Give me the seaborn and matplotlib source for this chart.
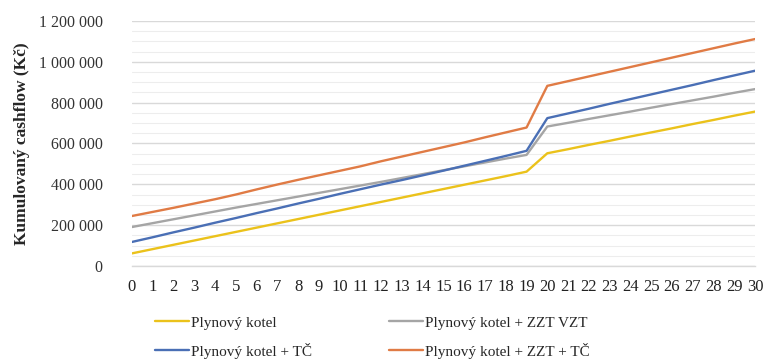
import numpy as np
import pandas as pd
import matplotlib
matplotlib.use("Agg")
import matplotlib.pyplot as plt
from matplotlib.ticker import MultipleLocator, FuncFormatter
from matplotlib.lines import Line2D
import seaborn as sns

# Years of operation
years = list(range(0, 31))

# Cumulative cashflow (CZK) for each heating variant
plynovy_kotel = [
    62000, 83000, 104000, 125000, 146000, 167000, 188000, 209000, 230000, 251000,
    272000, 293000, 314000, 335000, 356000, 377000, 398000, 419000, 440000, 462000,
    552000, 572000, 593000, 613000, 634000, 654000, 674000, 695000, 715000, 736000,
    756000,
]
kotel_zzt_vzt = [
    191000, 210000, 229000, 248000, 267000, 286000, 304000, 322000, 340000, 358000,
    376000, 394000, 412000, 431000, 450000, 469000, 488000, 507000, 526000, 544000,
    683000, 701000, 720000, 738000, 756000, 775000, 793000, 811000, 829000, 848000,
    866000,
]
kotel_tc = [
    118000, 141000, 165000, 188000, 212000, 235000, 259000, 282000, 306000, 329000,
    353000, 376000, 399000, 421000, 444000, 467000, 491000, 515000, 539000, 564000,
    724000, 747000, 770000, 794000, 817000, 840000, 863000, 886000, 910000, 933000,
    956000,
]
kotel_zzt_tc = [
    245000, 265000, 285000, 306000, 327000, 350000, 375000, 399000, 422000, 444000,
    466000, 488000, 513000, 536000, 559000, 582000, 605000, 630000, 654000, 678000,
    882000, 905000, 928000, 951000, 974000, 997000, 1020000, 1043000, 1066000, 1089000,
    1111000,
]

series_names = [
    "Plynový kotel",
    "Plynový kotel + ZZT VZT",
    "Plynový kotel + TČ",
    "Plynový kotel + ZZT + TČ",
]
series_values = [plynovy_kotel, kotel_zzt_vzt, kotel_tc, kotel_zzt_tc]
series_colors = ["#EBC21B", "#A5A5A5", "#4A6FB5", "#E07B45"]

y_label = "Kumulovaný cashflow (Kč)"

df = pd.DataFrame(
    [
        {"rok": y, "cashflow": v, "varianta": name}
        for name, vals in zip(series_names, series_values)
        for y, v in zip(years, vals)
    ]
)

sns.set_theme(style="white")
plt.rcParams["font.family"] = ["Liberation Serif", "DejaVu Serif"]

fig = plt.figure(figsize=(7.63, 3.6), dpi=100)
ax = fig.add_axes([0.173, 0.261, 0.9895 - 0.173, 0.942 - 0.261])

sns.lineplot(
    data=df, x="rok", y="cashflow", hue="varianta",
    hue_order=series_names, palette=dict(zip(series_names, series_colors)),
    linewidth=1.7, ax=ax, legend=False,
)

ax.set_xlim(0, 30)
ax.set_ylim(0, 1200000)
ax.set_xticks(years)
ax.set_xticklabels([str(y) for y in years], fontsize=12)
ax.yaxis.set_major_locator(MultipleLocator(200000))
ax.yaxis.set_minor_locator(MultipleLocator(50000))
ax.yaxis.set_major_formatter(
    FuncFormatter(lambda v, _: f"{v:,.0f}".replace(",", " "))
)
ax.tick_params(axis="y", labelsize=11.5, length=0, pad=21, colors="#333333")
ax.tick_params(axis="x", length=4, color="#D0D0D0", pad=5, colors="#222222")
ax.tick_params(axis="y", which="minor", length=0)

ax.grid(axis="y", which="major", color="#D9D9D9", linewidth=1.0)
ax.grid(axis="y", which="minor", color="#EDEDED", linewidth=0.8)
ax.grid(axis="x", visible=False)
ax.set_axisbelow(True)
for side in ["top", "right", "left"]:
    ax.spines[side].set_visible(False)
ax.spines["bottom"].set_color("#D9D9D9")
ax.spines["bottom"].set_linewidth(1.0)

ax.set_xlabel("")
ax.set_ylabel(y_label, fontsize=12.5, fontweight="bold", labelpad=6)

# Legend below the plot, two columns
order = [0, 2, 1, 3]
handles = [Line2D([], [], color=series_colors[i], linewidth=1.7) for i in order]
labels = [series_names[i] for i in order]
fig.legend(
    handles, labels, loc="upper left", bbox_to_anchor=(155 / 763, 1 - 316 / 360),
    ncol=2, frameon=False, fontsize=11, handlelength=2.2, handletextpad=0.13,
    columnspacing=5.07, labelspacing=0.86, borderpad=0, borderaxespad=0,
)

fig.savefig("out.png", dpi=100)
